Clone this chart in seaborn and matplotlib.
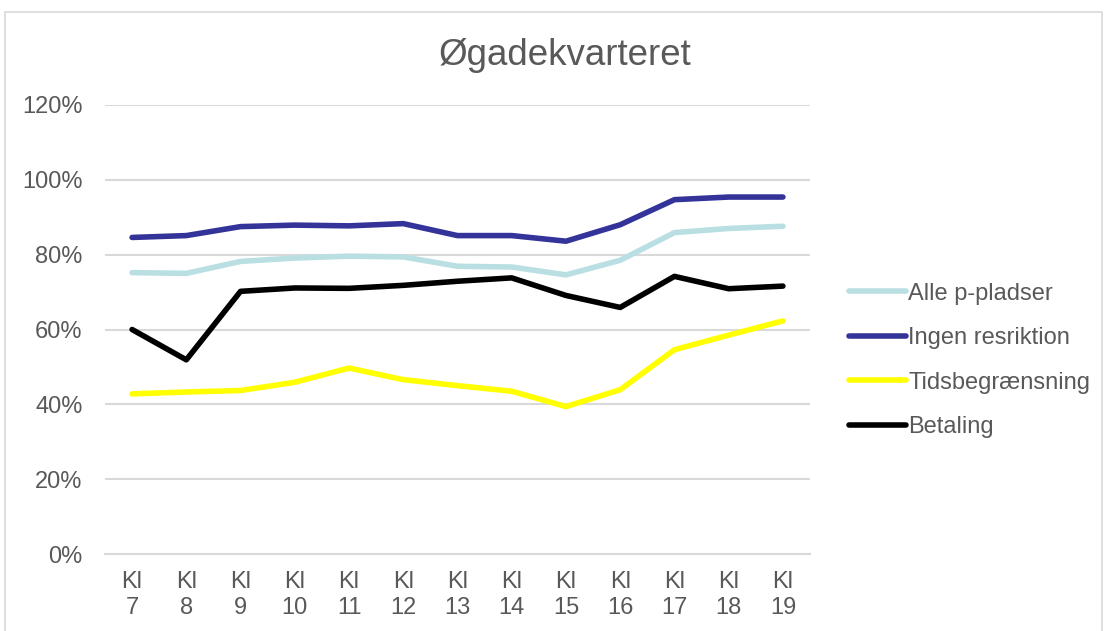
import pandas as pd
import matplotlib
matplotlib.use('Agg')
import matplotlib.pyplot as plt
import seaborn as sns
from matplotlib.patches import Rectangle
from matplotlib.ticker import PercentFormatter

# data (share of occupied spaces)
hours = ['Kl\n7', 'Kl\n8', 'Kl\n9', 'Kl\n10', 'Kl\n11', 'Kl\n12', 'Kl\n13',
         'Kl\n14', 'Kl\n15', 'Kl\n16', 'Kl\n17', 'Kl\n18', 'Kl\n19']
alle = [0.752, 0.750, 0.782, 0.791, 0.796, 0.794, 0.769, 0.767, 0.746, 0.785, 0.859, 0.870, 0.876]
ingen = [0.846, 0.851, 0.875, 0.879, 0.877, 0.883, 0.851, 0.851, 0.836, 0.880, 0.947, 0.954, 0.954]
tids = [0.428, 0.433, 0.437, 0.459, 0.497, 0.466, 0.450, 0.435, 0.394, 0.439, 0.546, 0.585, 0.623]
betaling = [0.600, 0.519, 0.702, 0.711, 0.710, 0.718, 0.729, 0.738, 0.691, 0.659, 0.742, 0.709, 0.716]

series_names = ['Alle p-pladser', 'Ingen resriktion', 'Tidsbegrænsning', 'Betaling']
series_colors = ['#B9DFE3', '#333399', '#FFFF00', '#000000']

df = pd.concat([
    pd.DataFrame({'hour': hours, 'share': vals, 'type': name})
    for name, vals in zip(series_names, [alle, ingen, tids, betaling])
])

sns.set_style('white')
plt.rcParams['font.family'] = ['Liberation Sans', 'DejaVu Sans']
text_col = '#595959'
grid_col = '#D9D9D9'

fig = plt.figure(figsize=(11.06, 6.31), dpi=100)
ax = fig.add_axes([0.0949, 0.122, 0.6375, 0.7116])

sns.lineplot(data=df, x='hour', y='share', hue='type', sort=False,
             palette=dict(zip(series_names, series_colors)),
             linewidth=4, ax=ax, legend=True)

ax.set_ylim(0, 1.2)
ax.set_xlim(-0.5, len(hours) - 0.5)
ax.set_yticks([0, 0.2, 0.4, 0.6, 0.8, 1.0, 1.2])
ax.yaxis.set_major_formatter(PercentFormatter(1.0, decimals=0))
ax.grid(axis='y', color=grid_col, linewidth=1.5)
ax.set_axisbelow(True)
for s in ['top', 'right', 'left']:
    ax.spines[s].set_visible(False)
ax.spines['bottom'].set_color(grid_col)
ax.spines['bottom'].set_linewidth(1.5)
ax.tick_params(axis='both', length=0, labelsize=17, colors=text_col)
ax.tick_params(axis='y', pad=16)
ax.tick_params(axis='x', pad=12)
for lab in ax.get_xticklabels():
    lab.set_linespacing(1.25)
ax.set_xlabel('')
ax.set_ylabel('')

leg = ax.legend(loc='center left', bbox_to_anchor=(0.757, 0.429),
                bbox_transform=fig.transFigure, frameon=False, fontsize=17,
                handlelength=2.4, handletextpad=0.1, labelspacing=0.95,
                borderpad=0)
for t in leg.get_texts():
    t.set_color(text_col)
for h in leg.get_lines():
    h.set_linewidth(4)

fig.text(0.511, 0.912, 'Øgadekvarteret', ha='center', va='center',
         fontsize=26.5, color=text_col)

# chart border
fig.patches.append(Rectangle((5 / 1106, -0.01), 1097 / 1106, 1 - 12 / 631 + 0.01,
                             transform=fig.transFigure, fill=False,
                             edgecolor=grid_col, linewidth=1.2))

fig.savefig('out.png', dpi=100)
